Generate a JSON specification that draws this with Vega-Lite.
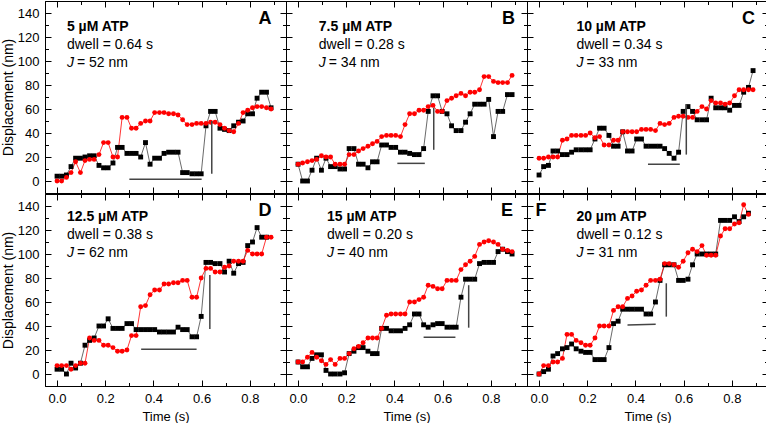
{
"$schema":"https://vega.github.io/schema/vega-lite/v6.json",
"padding":{"left":0,"top":0,"right":0,"bottom":0},
"background":"white",
"spacing":-4,
"config":{"font":"Liberation Sans","view":{"stroke":"black","strokeWidth":1},
"axis":{"domainColor":"black","tickColor":"black","labelColor":"black","titleColor":"black","labelFontSize":13,"titleFontSize":13,"titleFontWeight":"normal","grid":false,"tickWidth":1,"domainWidth":1,"labelOverlap":false,"labelFlush":false}},
"datasets":{
"labels":[
{"p":"A","atp":"5 µM ATP","dwell":"dwell = 0.64 s","j":"= 52 nm","letter":"A"},
{"p":"B","atp":"7.5 µM ATP","dwell":"dwell = 0.28 s","j":"= 34 nm","letter":"B"},
{"p":"C","atp":"10 µM ATP","dwell":"dwell = 0.34 s","j":"= 33 nm","letter":"C"},
{"p":"D","atp":"12.5 µM ATP","dwell":"dwell = 0.38 s","j":"= 62 nm","letter":"D"},
{"p":"E","atp":"15 µM ATP","dwell":"dwell = 0.20 s","j":"= 40 nm","letter":"E"},
{"p":"F","atp":"20 µm ATP","dwell":"dwell = 0.12 s","j":"= 31 nm","letter":"F"}],
"bars":[
{"p":"A","t":0.30,"t2":0.60,"v":1.4,"v2":1.4},{"p":"A","t":0.642,"t2":0.642,"v":6,"v2":50},
{"p":"B","t":0.412,"t2":0.526,"v":14.7,"v2":14.7},{"p":"B","t":0.563,"t2":0.563,"v":26,"v2":61},
{"p":"C","t":0.452,"t2":0.584,"v":14,"v2":14},{"p":"C","t":0.611,"t2":0.611,"v":22,"v2":64},
{"p":"D","t":0.349,"t2":0.579,"v":20.6,"v2":20.6},{"p":"D","t":0.634,"t2":0.634,"v":37.5,"v2":82.5},
{"p":"E","t":0.521,"t2":0.653,"v":30.6,"v2":30.6},{"p":"E","t":0.708,"t2":0.708,"v":38.6,"v2":74},
{"p":"F","t":0.367,"t2":0.484,"v":40.8,"v2":41.5},{"p":"F","t":0.528,"t2":0.528,"v":47.8,"v2":75.6}],
"traces":[
{"p":"A","s":"black","t":0,"v":4},{"p":"A","s":"black","t":0.019,"v":4},{"p":"A","s":"black","t":0.039,"v":5},{"p":"A","s":"black","t":0.058,"v":12},{"p":"A","s":"black","t":0.077,"v":19},{"p":"A","s":"black","t":0.097,"v":19},{"p":"A","s":"black","t":0.116,"v":20},{"p":"A","s":"black","t":0.135,"v":21},{"p":"A","s":"black","t":0.154,"v":21},{"p":"A","s":"black","t":0.174,"v":13},{"p":"A","s":"black","t":0.193,"v":11},{"p":"A","s":"black","t":0.212,"v":11},{"p":"A","s":"black","t":0.232,"v":15},{"p":"A","s":"black","t":0.251,"v":28},{"p":"A","s":"black","t":0.27,"v":28},{"p":"A","s":"black","t":0.29,"v":23},{"p":"A","s":"black","t":0.309,"v":23},{"p":"A","s":"black","t":0.328,"v":23},{"p":"A","s":"black","t":0.347,"v":20},{"p":"A","s":"black","t":0.367,"v":32},{"p":"A","s":"black","t":0.386,"v":14},{"p":"A","s":"black","t":0.405,"v":19},{"p":"A","s":"black","t":0.425,"v":19},{"p":"A","s":"black","t":0.444,"v":23},{"p":"A","s":"black","t":0.463,"v":24},{"p":"A","s":"black","t":0.483,"v":24},{"p":"A","s":"black","t":0.502,"v":24},{"p":"A","s":"black","t":0.521,"v":7},{"p":"A","s":"black","t":0.54,"v":7},{"p":"A","s":"black","t":0.56,"v":6},{"p":"A","s":"black","t":0.579,"v":6},{"p":"A","s":"black","t":0.598,"v":6},{"p":"A","s":"black","t":0.618,"v":46},{"p":"A","s":"black","t":0.637,"v":58},{"p":"A","s":"black","t":0.656,"v":58},{"p":"A","s":"black","t":0.676,"v":44},{"p":"A","s":"black","t":0.695,"v":43},{"p":"A","s":"black","t":0.714,"v":42},{"p":"A","s":"black","t":0.733,"v":46},{"p":"A","s":"black","t":0.753,"v":49},{"p":"A","s":"black","t":0.772,"v":50},{"p":"A","s":"black","t":0.791,"v":56},{"p":"A","s":"black","t":0.811,"v":56},{"p":"A","s":"black","t":0.83,"v":69},{"p":"A","s":"black","t":0.849,"v":74},{"p":"A","s":"black","t":0.869,"v":74},{"p":"A","s":"black","t":0.888,"v":61},
{"p":"A","s":"red","t":0,"v":0},{"p":"A","s":"red","t":0.019,"v":0},{"p":"A","s":"red","t":0.039,"v":3},{"p":"A","s":"red","t":0.058,"v":7},{"p":"A","s":"red","t":0.077,"v":16},{"p":"A","s":"red","t":0.097,"v":7},{"p":"A","s":"red","t":0.116,"v":17},{"p":"A","s":"red","t":0.135,"v":18},{"p":"A","s":"red","t":0.154,"v":18},{"p":"A","s":"red","t":0.174,"v":22},{"p":"A","s":"red","t":0.193,"v":32},{"p":"A","s":"red","t":0.212,"v":32},{"p":"A","s":"red","t":0.232,"v":20},{"p":"A","s":"red","t":0.251,"v":20},{"p":"A","s":"red","t":0.27,"v":53},{"p":"A","s":"red","t":0.29,"v":53},{"p":"A","s":"red","t":0.309,"v":44},{"p":"A","s":"red","t":0.328,"v":44},{"p":"A","s":"red","t":0.347,"v":48},{"p":"A","s":"red","t":0.367,"v":50},{"p":"A","s":"red","t":0.386,"v":50},{"p":"A","s":"red","t":0.405,"v":57},{"p":"A","s":"red","t":0.425,"v":57},{"p":"A","s":"red","t":0.444,"v":57},{"p":"A","s":"red","t":0.463,"v":56},{"p":"A","s":"red","t":0.483,"v":56},{"p":"A","s":"red","t":0.502,"v":55},{"p":"A","s":"red","t":0.521,"v":51},{"p":"A","s":"red","t":0.54,"v":47},{"p":"A","s":"red","t":0.56,"v":47},{"p":"A","s":"red","t":0.579,"v":48},{"p":"A","s":"red","t":0.598,"v":48},{"p":"A","s":"red","t":0.618,"v":48},{"p":"A","s":"red","t":0.637,"v":49},{"p":"A","s":"red","t":0.656,"v":49},{"p":"A","s":"red","t":0.676,"v":47},{"p":"A","s":"red","t":0.695,"v":44},{"p":"A","s":"red","t":0.714,"v":42},{"p":"A","s":"red","t":0.733,"v":41},{"p":"A","s":"red","t":0.753,"v":48},{"p":"A","s":"red","t":0.772,"v":57},{"p":"A","s":"red","t":0.791,"v":59},{"p":"A","s":"red","t":0.811,"v":61},{"p":"A","s":"red","t":0.83,"v":62},{"p":"A","s":"red","t":0.849,"v":62},{"p":"A","s":"red","t":0.869,"v":61},{"p":"A","s":"red","t":0.888,"v":60},
{"p":"B","s":"black","t":0,"v":14},{"p":"B","s":"black","t":0.019,"v":0},{"p":"B","s":"black","t":0.039,"v":0},{"p":"B","s":"black","t":0.058,"v":9},{"p":"B","s":"black","t":0.077,"v":19},{"p":"B","s":"black","t":0.097,"v":9},{"p":"B","s":"black","t":0.116,"v":19},{"p":"B","s":"black","t":0.135,"v":12},{"p":"B","s":"black","t":0.154,"v":12},{"p":"B","s":"black","t":0.174,"v":10},{"p":"B","s":"black","t":0.193,"v":10},{"p":"B","s":"black","t":0.212,"v":27},{"p":"B","s":"black","t":0.232,"v":27},{"p":"B","s":"black","t":0.251,"v":14},{"p":"B","s":"black","t":0.27,"v":14},{"p":"B","s":"black","t":0.29,"v":11},{"p":"B","s":"black","t":0.309,"v":16},{"p":"B","s":"black","t":0.328,"v":16},{"p":"B","s":"black","t":0.347,"v":30},{"p":"B","s":"black","t":0.367,"v":30},{"p":"B","s":"black","t":0.386,"v":28},{"p":"B","s":"black","t":0.405,"v":28},{"p":"B","s":"black","t":0.425,"v":24},{"p":"B","s":"black","t":0.444,"v":24},{"p":"B","s":"black","t":0.463,"v":23},{"p":"B","s":"black","t":0.483,"v":22},{"p":"B","s":"black","t":0.502,"v":22},{"p":"B","s":"black","t":0.521,"v":27},{"p":"B","s":"black","t":0.54,"v":58},{"p":"B","s":"black","t":0.56,"v":71},{"p":"B","s":"black","t":0.579,"v":71},{"p":"B","s":"black","t":0.598,"v":58},{"p":"B","s":"black","t":0.618,"v":56},{"p":"B","s":"black","t":0.637,"v":46},{"p":"B","s":"black","t":0.656,"v":42},{"p":"B","s":"black","t":0.676,"v":42},{"p":"B","s":"black","t":0.695,"v":49},{"p":"B","s":"black","t":0.714,"v":56},{"p":"B","s":"black","t":0.733,"v":64},{"p":"B","s":"black","t":0.753,"v":64},{"p":"B","s":"black","t":0.772,"v":64},{"p":"B","s":"black","t":0.791,"v":68},{"p":"B","s":"black","t":0.811,"v":37},{"p":"B","s":"black","t":0.83,"v":58},{"p":"B","s":"black","t":0.849,"v":58},{"p":"B","s":"black","t":0.869,"v":72},{"p":"B","s":"black","t":0.888,"v":72},
{"p":"B","s":"red","t":0,"v":14},{"p":"B","s":"red","t":0.019,"v":15},{"p":"B","s":"red","t":0.039,"v":16},{"p":"B","s":"red","t":0.058,"v":17},{"p":"B","s":"red","t":0.077,"v":18},{"p":"B","s":"red","t":0.097,"v":21},{"p":"B","s":"red","t":0.116,"v":20},{"p":"B","s":"red","t":0.135,"v":20},{"p":"B","s":"red","t":0.154,"v":14},{"p":"B","s":"red","t":0.174,"v":14},{"p":"B","s":"red","t":0.193,"v":14},{"p":"B","s":"red","t":0.212,"v":22},{"p":"B","s":"red","t":0.232,"v":22},{"p":"B","s":"red","t":0.251,"v":25},{"p":"B","s":"red","t":0.27,"v":27},{"p":"B","s":"red","t":0.29,"v":29},{"p":"B","s":"red","t":0.309,"v":31},{"p":"B","s":"red","t":0.328,"v":33},{"p":"B","s":"red","t":0.347,"v":37},{"p":"B","s":"red","t":0.367,"v":38},{"p":"B","s":"red","t":0.386,"v":38},{"p":"B","s":"red","t":0.405,"v":38},{"p":"B","s":"red","t":0.425,"v":37},{"p":"B","s":"red","t":0.444,"v":47},{"p":"B","s":"red","t":0.463,"v":56},{"p":"B","s":"red","t":0.483,"v":56},{"p":"B","s":"red","t":0.502,"v":59},{"p":"B","s":"red","t":0.521,"v":59},{"p":"B","s":"red","t":0.54,"v":62},{"p":"B","s":"red","t":0.56,"v":63},{"p":"B","s":"red","t":0.579,"v":58},{"p":"B","s":"red","t":0.598,"v":58},{"p":"B","s":"red","t":0.618,"v":67},{"p":"B","s":"red","t":0.637,"v":69},{"p":"B","s":"red","t":0.656,"v":71},{"p":"B","s":"red","t":0.676,"v":73},{"p":"B","s":"red","t":0.695,"v":71},{"p":"B","s":"red","t":0.714,"v":74},{"p":"B","s":"red","t":0.733,"v":74},{"p":"B","s":"red","t":0.753,"v":76},{"p":"B","s":"red","t":0.772,"v":87},{"p":"B","s":"red","t":0.791,"v":87},{"p":"B","s":"red","t":0.811,"v":83},{"p":"B","s":"red","t":0.83,"v":82},{"p":"B","s":"red","t":0.849,"v":82},{"p":"B","s":"red","t":0.869,"v":82},{"p":"B","s":"red","t":0.888,"v":88},
{"p":"C","s":"black","t":0,"v":5},{"p":"C","s":"black","t":0.019,"v":12},{"p":"C","s":"black","t":0.039,"v":13},{"p":"C","s":"black","t":0.058,"v":25},{"p":"C","s":"black","t":0.077,"v":25},{"p":"C","s":"black","t":0.097,"v":22},{"p":"C","s":"black","t":0.116,"v":22},{"p":"C","s":"black","t":0.135,"v":24},{"p":"C","s":"black","t":0.154,"v":26},{"p":"C","s":"black","t":0.174,"v":26},{"p":"C","s":"black","t":0.193,"v":26},{"p":"C","s":"black","t":0.212,"v":26},{"p":"C","s":"black","t":0.232,"v":35},{"p":"C","s":"black","t":0.251,"v":44},{"p":"C","s":"black","t":0.27,"v":44},{"p":"C","s":"black","t":0.29,"v":38},{"p":"C","s":"black","t":0.309,"v":29},{"p":"C","s":"black","t":0.328,"v":29},{"p":"C","s":"black","t":0.347,"v":41},{"p":"C","s":"black","t":0.367,"v":25},{"p":"C","s":"black","t":0.386,"v":25},{"p":"C","s":"black","t":0.405,"v":35},{"p":"C","s":"black","t":0.425,"v":35},{"p":"C","s":"black","t":0.444,"v":29},{"p":"C","s":"black","t":0.463,"v":29},{"p":"C","s":"black","t":0.483,"v":29},{"p":"C","s":"black","t":0.502,"v":29},{"p":"C","s":"black","t":0.521,"v":27},{"p":"C","s":"black","t":0.54,"v":23},{"p":"C","s":"black","t":0.56,"v":19},{"p":"C","s":"black","t":0.579,"v":24},{"p":"C","s":"black","t":0.598,"v":58},{"p":"C","s":"black","t":0.618,"v":62},{"p":"C","s":"black","t":0.637,"v":58},{"p":"C","s":"black","t":0.656,"v":51},{"p":"C","s":"black","t":0.676,"v":51},{"p":"C","s":"black","t":0.695,"v":51},{"p":"C","s":"black","t":0.714,"v":69},{"p":"C","s":"black","t":0.733,"v":61},{"p":"C","s":"black","t":0.753,"v":61},{"p":"C","s":"black","t":0.772,"v":61},{"p":"C","s":"black","t":0.791,"v":59},{"p":"C","s":"black","t":0.811,"v":63},{"p":"C","s":"black","t":0.83,"v":63},{"p":"C","s":"black","t":0.849,"v":74},{"p":"C","s":"black","t":0.869,"v":78},{"p":"C","s":"black","t":0.888,"v":92},
{"p":"C","s":"red","t":0,"v":19},{"p":"C","s":"red","t":0.019,"v":19},{"p":"C","s":"red","t":0.039,"v":20},{"p":"C","s":"red","t":0.058,"v":20},{"p":"C","s":"red","t":0.077,"v":20},{"p":"C","s":"red","t":0.097,"v":34},{"p":"C","s":"red","t":0.116,"v":35},{"p":"C","s":"red","t":0.135,"v":38},{"p":"C","s":"red","t":0.154,"v":38},{"p":"C","s":"red","t":0.174,"v":38},{"p":"C","s":"red","t":0.193,"v":38},{"p":"C","s":"red","t":0.212,"v":40},{"p":"C","s":"red","t":0.232,"v":36},{"p":"C","s":"red","t":0.251,"v":37},{"p":"C","s":"red","t":0.27,"v":30},{"p":"C","s":"red","t":0.29,"v":30},{"p":"C","s":"red","t":0.309,"v":34},{"p":"C","s":"red","t":0.328,"v":34},{"p":"C","s":"red","t":0.347,"v":41},{"p":"C","s":"red","t":0.367,"v":41},{"p":"C","s":"red","t":0.386,"v":41},{"p":"C","s":"red","t":0.405,"v":41},{"p":"C","s":"red","t":0.425,"v":43},{"p":"C","s":"red","t":0.444,"v":43},{"p":"C","s":"red","t":0.463,"v":43},{"p":"C","s":"red","t":0.483,"v":42},{"p":"C","s":"red","t":0.502,"v":48},{"p":"C","s":"red","t":0.521,"v":47},{"p":"C","s":"red","t":0.54,"v":48},{"p":"C","s":"red","t":0.56,"v":53},{"p":"C","s":"red","t":0.579,"v":54},{"p":"C","s":"red","t":0.598,"v":54},{"p":"C","s":"red","t":0.618,"v":53},{"p":"C","s":"red","t":0.637,"v":53},{"p":"C","s":"red","t":0.656,"v":58},{"p":"C","s":"red","t":0.676,"v":62},{"p":"C","s":"red","t":0.695,"v":60},{"p":"C","s":"red","t":0.714,"v":67},{"p":"C","s":"red","t":0.733,"v":65},{"p":"C","s":"red","t":0.753,"v":65},{"p":"C","s":"red","t":0.772,"v":64},{"p":"C","s":"red","t":0.791,"v":65},{"p":"C","s":"red","t":0.811,"v":71},{"p":"C","s":"red","t":0.83,"v":76},{"p":"C","s":"red","t":0.849,"v":76},{"p":"C","s":"red","t":0.869,"v":76},{"p":"C","s":"red","t":0.888,"v":76},
{"p":"D","s":"black","t":0,"v":4},{"p":"D","s":"black","t":0.019,"v":4},{"p":"D","s":"black","t":0.039,"v":0},{"p":"D","s":"black","t":0.058,"v":9},{"p":"D","s":"black","t":0.077,"v":5},{"p":"D","s":"black","t":0.097,"v":9},{"p":"D","s":"black","t":0.116,"v":24},{"p":"D","s":"black","t":0.135,"v":28},{"p":"D","s":"black","t":0.154,"v":30},{"p":"D","s":"black","t":0.174,"v":40},{"p":"D","s":"black","t":0.193,"v":40},{"p":"D","s":"black","t":0.212,"v":46},{"p":"D","s":"black","t":0.232,"v":38},{"p":"D","s":"black","t":0.251,"v":38},{"p":"D","s":"black","t":0.27,"v":38},{"p":"D","s":"black","t":0.29,"v":42},{"p":"D","s":"black","t":0.309,"v":42},{"p":"D","s":"black","t":0.328,"v":37},{"p":"D","s":"black","t":0.347,"v":37},{"p":"D","s":"black","t":0.367,"v":37},{"p":"D","s":"black","t":0.386,"v":37},{"p":"D","s":"black","t":0.405,"v":37},{"p":"D","s":"black","t":0.425,"v":35},{"p":"D","s":"black","t":0.444,"v":35},{"p":"D","s":"black","t":0.463,"v":35},{"p":"D","s":"black","t":0.483,"v":35},{"p":"D","s":"black","t":0.502,"v":39},{"p":"D","s":"black","t":0.521,"v":37},{"p":"D","s":"black","t":0.54,"v":37},{"p":"D","s":"black","t":0.56,"v":31},{"p":"D","s":"black","t":0.579,"v":31},{"p":"D","s":"black","t":0.598,"v":48},{"p":"D","s":"black","t":0.618,"v":93},{"p":"D","s":"black","t":0.637,"v":93},{"p":"D","s":"black","t":0.656,"v":92},{"p":"D","s":"black","t":0.676,"v":92},{"p":"D","s":"black","t":0.695,"v":85},{"p":"D","s":"black","t":0.714,"v":94},{"p":"D","s":"black","t":0.733,"v":84},{"p":"D","s":"black","t":0.753,"v":92},{"p":"D","s":"black","t":0.772,"v":93},{"p":"D","s":"black","t":0.791,"v":107},{"p":"D","s":"black","t":0.811,"v":110},{"p":"D","s":"black","t":0.83,"v":122},{"p":"D","s":"black","t":0.849,"v":114},{"p":"D","s":"black","t":0.869,"v":114},
{"p":"D","s":"red","t":0,"v":7},{"p":"D","s":"red","t":0.019,"v":7},{"p":"D","s":"red","t":0.039,"v":7},{"p":"D","s":"red","t":0.058,"v":4},{"p":"D","s":"red","t":0.077,"v":7},{"p":"D","s":"red","t":0.097,"v":9},{"p":"D","s":"red","t":0.116,"v":9},{"p":"D","s":"red","t":0.135,"v":30},{"p":"D","s":"red","t":0.154,"v":28},{"p":"D","s":"red","t":0.174,"v":28},{"p":"D","s":"red","t":0.193,"v":24},{"p":"D","s":"red","t":0.212,"v":24},{"p":"D","s":"red","t":0.232,"v":22},{"p":"D","s":"red","t":0.251,"v":19},{"p":"D","s":"red","t":0.27,"v":19},{"p":"D","s":"red","t":0.29,"v":20},{"p":"D","s":"red","t":0.309,"v":32},{"p":"D","s":"red","t":0.328,"v":32},{"p":"D","s":"red","t":0.347,"v":56},{"p":"D","s":"red","t":0.367,"v":57},{"p":"D","s":"red","t":0.386,"v":66},{"p":"D","s":"red","t":0.405,"v":70},{"p":"D","s":"red","t":0.425,"v":70},{"p":"D","s":"red","t":0.444,"v":75},{"p":"D","s":"red","t":0.463,"v":75},{"p":"D","s":"red","t":0.483,"v":76},{"p":"D","s":"red","t":0.502,"v":76},{"p":"D","s":"red","t":0.521,"v":78},{"p":"D","s":"red","t":0.54,"v":78},{"p":"D","s":"red","t":0.56,"v":64},{"p":"D","s":"red","t":0.579,"v":64},{"p":"D","s":"red","t":0.598,"v":80},{"p":"D","s":"red","t":0.618,"v":88},{"p":"D","s":"red","t":0.637,"v":88},{"p":"D","s":"red","t":0.656,"v":85},{"p":"D","s":"red","t":0.676,"v":85},{"p":"D","s":"red","t":0.695,"v":89},{"p":"D","s":"red","t":0.714,"v":90},{"p":"D","s":"red","t":0.733,"v":94},{"p":"D","s":"red","t":0.753,"v":94},{"p":"D","s":"red","t":0.772,"v":94},{"p":"D","s":"red","t":0.791,"v":103},{"p":"D","s":"red","t":0.811,"v":100},{"p":"D","s":"red","t":0.83,"v":100},{"p":"D","s":"red","t":0.849,"v":100},{"p":"D","s":"red","t":0.869,"v":114},{"p":"D","s":"red","t":0.888,"v":114},
{"p":"E","s":"black","t":0,"v":10},{"p":"E","s":"black","t":0.019,"v":6},{"p":"E","s":"black","t":0.039,"v":6},{"p":"E","s":"black","t":0.058,"v":13},{"p":"E","s":"black","t":0.077,"v":16},{"p":"E","s":"black","t":0.097,"v":16},{"p":"E","s":"black","t":0.116,"v":3},{"p":"E","s":"black","t":0.135,"v":0},{"p":"E","s":"black","t":0.154,"v":0},{"p":"E","s":"black","t":0.174,"v":0},{"p":"E","s":"black","t":0.193,"v":1},{"p":"E","s":"black","t":0.212,"v":17},{"p":"E","s":"black","t":0.232,"v":19},{"p":"E","s":"black","t":0.251,"v":22},{"p":"E","s":"black","t":0.27,"v":22},{"p":"E","s":"black","t":0.29,"v":19},{"p":"E","s":"black","t":0.309,"v":17},{"p":"E","s":"black","t":0.328,"v":17},{"p":"E","s":"black","t":0.347,"v":38},{"p":"E","s":"black","t":0.367,"v":38},{"p":"E","s":"black","t":0.386,"v":36},{"p":"E","s":"black","t":0.405,"v":36},{"p":"E","s":"black","t":0.425,"v":36},{"p":"E","s":"black","t":0.444,"v":38},{"p":"E","s":"black","t":0.463,"v":41},{"p":"E","s":"black","t":0.483,"v":50},{"p":"E","s":"black","t":0.502,"v":50},{"p":"E","s":"black","t":0.521,"v":41},{"p":"E","s":"black","t":0.54,"v":39},{"p":"E","s":"black","t":0.56,"v":41},{"p":"E","s":"black","t":0.579,"v":42},{"p":"E","s":"black","t":0.598,"v":42},{"p":"E","s":"black","t":0.618,"v":39},{"p":"E","s":"black","t":0.637,"v":39},{"p":"E","s":"black","t":0.656,"v":39},{"p":"E","s":"black","t":0.676,"v":64},{"p":"E","s":"black","t":0.695,"v":79},{"p":"E","s":"black","t":0.714,"v":79},{"p":"E","s":"black","t":0.733,"v":79},{"p":"E","s":"black","t":0.753,"v":92},{"p":"E","s":"black","t":0.772,"v":93},{"p":"E","s":"black","t":0.791,"v":93},{"p":"E","s":"black","t":0.811,"v":93},{"p":"E","s":"black","t":0.83,"v":102},{"p":"E","s":"black","t":0.849,"v":104},{"p":"E","s":"black","t":0.869,"v":102},{"p":"E","s":"black","t":0.888,"v":100},
{"p":"E","s":"red","t":0,"v":10},{"p":"E","s":"red","t":0.019,"v":10},{"p":"E","s":"red","t":0.039,"v":14},{"p":"E","s":"red","t":0.058,"v":18},{"p":"E","s":"red","t":0.077,"v":14},{"p":"E","s":"red","t":0.097,"v":11},{"p":"E","s":"red","t":0.116,"v":8},{"p":"E","s":"red","t":0.135,"v":12},{"p":"E","s":"red","t":0.154,"v":8},{"p":"E","s":"red","t":0.174,"v":13},{"p":"E","s":"red","t":0.193,"v":13},{"p":"E","s":"red","t":0.212,"v":17},{"p":"E","s":"red","t":0.232,"v":21},{"p":"E","s":"red","t":0.251,"v":23},{"p":"E","s":"red","t":0.27,"v":26},{"p":"E","s":"red","t":0.29,"v":30},{"p":"E","s":"red","t":0.309,"v":30},{"p":"E","s":"red","t":0.328,"v":30},{"p":"E","s":"red","t":0.347,"v":38},{"p":"E","s":"red","t":0.367,"v":49},{"p":"E","s":"red","t":0.386,"v":50},{"p":"E","s":"red","t":0.405,"v":50},{"p":"E","s":"red","t":0.425,"v":50},{"p":"E","s":"red","t":0.444,"v":50},{"p":"E","s":"red","t":0.463,"v":60},{"p":"E","s":"red","t":0.483,"v":60},{"p":"E","s":"red","t":0.502,"v":62},{"p":"E","s":"red","t":0.521,"v":64},{"p":"E","s":"red","t":0.54,"v":74},{"p":"E","s":"red","t":0.56,"v":73},{"p":"E","s":"red","t":0.579,"v":71},{"p":"E","s":"red","t":0.598,"v":71},{"p":"E","s":"red","t":0.618,"v":78},{"p":"E","s":"red","t":0.637,"v":78},{"p":"E","s":"red","t":0.656,"v":78},{"p":"E","s":"red","t":0.676,"v":87},{"p":"E","s":"red","t":0.695,"v":91},{"p":"E","s":"red","t":0.714,"v":94},{"p":"E","s":"red","t":0.733,"v":98},{"p":"E","s":"red","t":0.753,"v":108},{"p":"E","s":"red","t":0.772,"v":110},{"p":"E","s":"red","t":0.791,"v":111},{"p":"E","s":"red","t":0.811,"v":110},{"p":"E","s":"red","t":0.83,"v":108},{"p":"E","s":"red","t":0.849,"v":104},{"p":"E","s":"red","t":0.869,"v":103},{"p":"E","s":"red","t":0.888,"v":102},
{"p":"F","s":"black","t":0,"v":0},{"p":"F","s":"black","t":0.019,"v":2},{"p":"F","s":"black","t":0.039,"v":4},{"p":"F","s":"black","t":0.058,"v":15},{"p":"F","s":"black","t":0.077,"v":17},{"p":"F","s":"black","t":0.097,"v":21},{"p":"F","s":"black","t":0.116,"v":22},{"p":"F","s":"black","t":0.135,"v":25},{"p":"F","s":"black","t":0.154,"v":21},{"p":"F","s":"black","t":0.174,"v":19},{"p":"F","s":"black","t":0.193,"v":18},{"p":"F","s":"black","t":0.212,"v":18},{"p":"F","s":"black","t":0.232,"v":12},{"p":"F","s":"black","t":0.251,"v":12},{"p":"F","s":"black","t":0.27,"v":12},{"p":"F","s":"black","t":0.29,"v":22},{"p":"F","s":"black","t":0.309,"v":42},{"p":"F","s":"black","t":0.328,"v":44},{"p":"F","s":"black","t":0.347,"v":54},{"p":"F","s":"black","t":0.367,"v":54},{"p":"F","s":"black","t":0.386,"v":54},{"p":"F","s":"black","t":0.405,"v":54},{"p":"F","s":"black","t":0.425,"v":54},{"p":"F","s":"black","t":0.444,"v":50},{"p":"F","s":"black","t":0.463,"v":50},{"p":"F","s":"black","t":0.483,"v":60},{"p":"F","s":"black","t":0.502,"v":78},{"p":"F","s":"black","t":0.521,"v":91},{"p":"F","s":"black","t":0.54,"v":91},{"p":"F","s":"black","t":0.56,"v":91},{"p":"F","s":"black","t":0.579,"v":78},{"p":"F","s":"black","t":0.598,"v":78},{"p":"F","s":"black","t":0.618,"v":79},{"p":"F","s":"black","t":0.637,"v":91},{"p":"F","s":"black","t":0.656,"v":100},{"p":"F","s":"black","t":0.676,"v":100},{"p":"F","s":"black","t":0.695,"v":100},{"p":"F","s":"black","t":0.714,"v":100},{"p":"F","s":"black","t":0.733,"v":100},{"p":"F","s":"black","t":0.753,"v":128},{"p":"F","s":"black","t":0.772,"v":128},{"p":"F","s":"black","t":0.791,"v":128},{"p":"F","s":"black","t":0.811,"v":131},{"p":"F","s":"black","t":0.83,"v":127},{"p":"F","s":"black","t":0.849,"v":131},{"p":"F","s":"black","t":0.869,"v":134},
{"p":"F","s":"red","t":0,"v":0},{"p":"F","s":"red","t":0.019,"v":7},{"p":"F","s":"red","t":0.039,"v":7},{"p":"F","s":"red","t":0.058,"v":10},{"p":"F","s":"red","t":0.077,"v":10},{"p":"F","s":"red","t":0.097,"v":13},{"p":"F","s":"red","t":0.116,"v":33},{"p":"F","s":"red","t":0.135,"v":33},{"p":"F","s":"red","t":0.154,"v":28},{"p":"F","s":"red","t":0.174,"v":26},{"p":"F","s":"red","t":0.193,"v":24},{"p":"F","s":"red","t":0.212,"v":24},{"p":"F","s":"red","t":0.232,"v":30},{"p":"F","s":"red","t":0.251,"v":40},{"p":"F","s":"red","t":0.27,"v":40},{"p":"F","s":"red","t":0.29,"v":40},{"p":"F","s":"red","t":0.309,"v":53},{"p":"F","s":"red","t":0.328,"v":56},{"p":"F","s":"red","t":0.347,"v":56},{"p":"F","s":"red","t":0.367,"v":63},{"p":"F","s":"red","t":0.386,"v":65},{"p":"F","s":"red","t":0.405,"v":69},{"p":"F","s":"red","t":0.425,"v":70},{"p":"F","s":"red","t":0.444,"v":74},{"p":"F","s":"red","t":0.463,"v":78},{"p":"F","s":"red","t":0.483,"v":78},{"p":"F","s":"red","t":0.502,"v":79},{"p":"F","s":"red","t":0.521,"v":92},{"p":"F","s":"red","t":0.54,"v":92},{"p":"F","s":"red","t":0.56,"v":91},{"p":"F","s":"red","t":0.579,"v":89},{"p":"F","s":"red","t":0.598,"v":94},{"p":"F","s":"red","t":0.618,"v":101},{"p":"F","s":"red","t":0.637,"v":104},{"p":"F","s":"red","t":0.656,"v":102},{"p":"F","s":"red","t":0.676,"v":107},{"p":"F","s":"red","t":0.695,"v":99},{"p":"F","s":"red","t":0.714,"v":99},{"p":"F","s":"red","t":0.733,"v":99},{"p":"F","s":"red","t":0.753,"v":115},{"p":"F","s":"red","t":0.772,"v":121},{"p":"F","s":"red","t":0.791,"v":121},{"p":"F","s":"red","t":0.811,"v":125},{"p":"F","s":"red","t":0.83,"v":126},{"p":"F","s":"red","t":0.849,"v":141},{"p":"F","s":"red","t":0.869,"v":133}
]},
"vconcat":[
{"hconcat":[
{"width":241,"height":192,"layer":[
{"data":{"name":"traces"},"transform":[{"filter":"datum.p==='A'"}],"mark":{"type":"line","strokeWidth":0.8},"encoding":{"x":{"field":"t","type":"quantitative","scale":{"domain":[-0.05,0.95],"nice":false,"zero":false},"axis":{"orient":"bottom","values":[0,0.1,0.2,0.3,0.4,0.5,0.6,0.7,0.8,0.9],"labels":false,"title":null,"tickSize":{"condition":{"test":"round(datum.value*10)%2===0","value":-6},"value":-3.5}}},"y":{"field":"v","type":"quantitative","scale":{"domain":[-10,150],"nice":false,"zero":false},"axis":{"orient":"left","values":[0,10,20,30,40,50,60,70,80,90,100,110,120,130,140],"labelExpr":"datum.value%20===0?datum.label:''","labelPadding":12,"title":"Displacement (nm)","titleFontSize":14,"titlePadding":2,"tickSize":{"condition":{"test":"datum.value%20===0","value":-6},"value":-3.5}}},"stroke":{"field":"s","type":"nominal","scale":{"domain":["black","red"],"range":["#444444","#ff0000"]},"legend":null}}},
{"data":{"name":"traces"},"transform":[{"filter":"datum.p==='A'"}],"mark":{"type":"point","filled":true,"opacity":1,"size":24},"encoding":{"x":{"field":"t","type":"quantitative","scale":{"domain":[-0.05,0.95],"nice":false,"zero":false},"axis":{"orient":"top","values":[0,0.1,0.2,0.3,0.4,0.5,0.6,0.7,0.8,0.9],"labels":false,"title":null,"tickSize":{"condition":{"test":"round(datum.value*10)%2===0","value":-6},"value":-3.5}}},"y":{"field":"v","type":"quantitative","scale":{"domain":[-10,150],"nice":false,"zero":false},"axis":{"orient":"right","values":[0,10,20,30,40,50,60,70,80,90,100,110,120,130,140],"labels":false,"title":null,"tickSize":{"condition":{"test":"datum.value%20===0","value":-6},"value":-3.5}}},"shape":{"field":"s","type":"nominal","scale":{"domain":["black","red"],"range":["square","circle"]},"legend":null},"fill":{"field":"s","type":"nominal","scale":{"domain":["black","red"],"range":["#000000","#ff0000"]},"legend":null}}},
{"data":{"name":"bars"},"transform":[{"filter":"datum.p==='A'"}],"mark":{"type":"rule","color":"#444444","strokeWidth":1.5},"encoding":{"x":{"field":"t","type":"quantitative","axis":null},"x2":{"field":"t2"},"y":{"field":"v","type":"quantitative","axis":null},"y2":{"field":"v2"}}},
{"data":{"name":"labels"},"transform":[{"filter":"datum.p==='A'"}],"mark":{"type":"text","align":"left","baseline":"middle","fontSize":14,"fontWeight":"bold"},"encoding":{"x":{"datum":0.041,"axis":null},"y":{"datum":128,"axis":null},"text":{"field":"atp"}}},
{"data":{"name":"labels"},"transform":[{"filter":"datum.p==='A'"}],"mark":{"type":"text","align":"left","baseline":"middle","fontSize":14},"encoding":{"x":{"datum":0.041,"axis":null},"y":{"datum":113,"axis":null},"text":{"field":"dwell"}}},
{"data":{"name":"labels"},"transform":[{"filter":"datum.p==='A'"}],"mark":{"type":"text","align":"left","baseline":"middle","fontSize":14,"fontStyle":"italic","text":"J"},"encoding":{"x":{"datum":0.041,"axis":null},"y":{"datum":98.5,"axis":null}}},
{"data":{"name":"labels"},"transform":[{"filter":"datum.p==='A'"}],"mark":{"type":"text","align":"left","baseline":"middle","fontSize":14,"dx":10},"encoding":{"x":{"datum":0.041,"axis":null},"y":{"datum":98.5,"axis":null},"text":{"field":"j"}}},
{"data":{"name":"labels"},"transform":[{"filter":"datum.p==='A'"}],"mark":{"type":"text","align":"right","baseline":"middle","fontSize":18,"fontWeight":"bold"},"encoding":{"x":{"datum":0.89,"axis":null},"y":{"datum":134.6,"axis":null},"text":{"field":"letter"}}}
],"resolve":{"axis":{"x":"independent","y":"independent"}}},
{"width":241,"height":192,"layer":[
{"data":{"name":"traces"},"transform":[{"filter":"datum.p==='B'"}],"mark":{"type":"line","strokeWidth":0.8},"encoding":{"x":{"field":"t","type":"quantitative","scale":{"domain":[-0.05,0.95],"nice":false,"zero":false},"axis":{"orient":"bottom","values":[0,0.1,0.2,0.3,0.4,0.5,0.6,0.7,0.8,0.9],"labels":false,"title":null,"tickSize":{"condition":{"test":"round(datum.value*10)%2===0","value":-6},"value":-3.5}}},"y":{"field":"v","type":"quantitative","scale":{"domain":[-10,150],"nice":false,"zero":false},"axis":{"orient":"left","values":[0,10,20,30,40,50,60,70,80,90,100,110,120,130,140],"labels":false,"title":null,"tickSize":{"condition":{"test":"datum.value%20===0","value":-6},"value":-3.5}}},"stroke":{"field":"s","type":"nominal","scale":{"domain":["black","red"],"range":["#444444","#ff0000"]},"legend":null}}},
{"data":{"name":"traces"},"transform":[{"filter":"datum.p==='B'"}],"mark":{"type":"point","filled":true,"opacity":1,"size":24},"encoding":{"x":{"field":"t","type":"quantitative","scale":{"domain":[-0.05,0.95],"nice":false,"zero":false},"axis":{"orient":"top","values":[0,0.1,0.2,0.3,0.4,0.5,0.6,0.7,0.8,0.9],"labels":false,"title":null,"tickSize":{"condition":{"test":"round(datum.value*10)%2===0","value":-6},"value":-3.5}}},"y":{"field":"v","type":"quantitative","scale":{"domain":[-10,150],"nice":false,"zero":false},"axis":{"orient":"right","values":[0,10,20,30,40,50,60,70,80,90,100,110,120,130,140],"labels":false,"title":null,"tickSize":{"condition":{"test":"datum.value%20===0","value":-6},"value":-3.5}}},"shape":{"field":"s","type":"nominal","scale":{"domain":["black","red"],"range":["square","circle"]},"legend":null},"fill":{"field":"s","type":"nominal","scale":{"domain":["black","red"],"range":["#000000","#ff0000"]},"legend":null}}},
{"data":{"name":"bars"},"transform":[{"filter":"datum.p==='B'"}],"mark":{"type":"rule","color":"#444444","strokeWidth":1.5},"encoding":{"x":{"field":"t","type":"quantitative","axis":null},"x2":{"field":"t2"},"y":{"field":"v","type":"quantitative","axis":null},"y2":{"field":"v2"}}},
{"data":{"name":"labels"},"transform":[{"filter":"datum.p==='B'"}],"mark":{"type":"text","align":"left","baseline":"middle","fontSize":14,"fontWeight":"bold"},"encoding":{"x":{"datum":0.086,"axis":null},"y":{"datum":128,"axis":null},"text":{"field":"atp"}}},
{"data":{"name":"labels"},"transform":[{"filter":"datum.p==='B'"}],"mark":{"type":"text","align":"left","baseline":"middle","fontSize":14},"encoding":{"x":{"datum":0.086,"axis":null},"y":{"datum":113,"axis":null},"text":{"field":"dwell"}}},
{"data":{"name":"labels"},"transform":[{"filter":"datum.p==='B'"}],"mark":{"type":"text","align":"left","baseline":"middle","fontSize":14,"fontStyle":"italic","text":"J"},"encoding":{"x":{"datum":0.086,"axis":null},"y":{"datum":98.5,"axis":null}}},
{"data":{"name":"labels"},"transform":[{"filter":"datum.p==='B'"}],"mark":{"type":"text","align":"left","baseline":"middle","fontSize":14,"dx":10},"encoding":{"x":{"datum":0.086,"axis":null},"y":{"datum":98.5,"axis":null},"text":{"field":"j"}}},
{"data":{"name":"labels"},"transform":[{"filter":"datum.p==='B'"}],"mark":{"type":"text","align":"right","baseline":"middle","fontSize":18,"fontWeight":"bold"},"encoding":{"x":{"datum":0.9,"axis":null},"y":{"datum":134.6,"axis":null},"text":{"field":"letter"}}}
],"resolve":{"axis":{"x":"independent","y":"independent"}}},
{"width":241,"height":192,"layer":[
{"data":{"name":"traces"},"transform":[{"filter":"datum.p==='C'"}],"mark":{"type":"line","strokeWidth":0.8},"encoding":{"x":{"field":"t","type":"quantitative","scale":{"domain":[-0.05,0.95],"nice":false,"zero":false},"axis":{"orient":"bottom","values":[0,0.1,0.2,0.3,0.4,0.5,0.6,0.7,0.8,0.9],"labels":false,"title":null,"tickSize":{"condition":{"test":"round(datum.value*10)%2===0","value":-6},"value":-3.5}}},"y":{"field":"v","type":"quantitative","scale":{"domain":[-10,150],"nice":false,"zero":false},"axis":{"orient":"left","values":[0,10,20,30,40,50,60,70,80,90,100,110,120,130,140],"labels":false,"title":null,"tickSize":{"condition":{"test":"datum.value%20===0","value":-6},"value":-3.5}}},"stroke":{"field":"s","type":"nominal","scale":{"domain":["black","red"],"range":["#444444","#ff0000"]},"legend":null}}},
{"data":{"name":"traces"},"transform":[{"filter":"datum.p==='C'"}],"mark":{"type":"point","filled":true,"opacity":1,"size":24},"encoding":{"x":{"field":"t","type":"quantitative","scale":{"domain":[-0.05,0.95],"nice":false,"zero":false},"axis":{"orient":"top","values":[0,0.1,0.2,0.3,0.4,0.5,0.6,0.7,0.8,0.9],"labels":false,"title":null,"tickSize":{"condition":{"test":"round(datum.value*10)%2===0","value":-6},"value":-3.5}}},"y":{"field":"v","type":"quantitative","scale":{"domain":[-10,150],"nice":false,"zero":false},"axis":{"orient":"right","values":[0,10,20,30,40,50,60,70,80,90,100,110,120,130,140],"labels":false,"title":null,"tickSize":{"condition":{"test":"datum.value%20===0","value":-6},"value":-3.5}}},"shape":{"field":"s","type":"nominal","scale":{"domain":["black","red"],"range":["square","circle"]},"legend":null},"fill":{"field":"s","type":"nominal","scale":{"domain":["black","red"],"range":["#000000","#ff0000"]},"legend":null}}},
{"data":{"name":"bars"},"transform":[{"filter":"datum.p==='C'"}],"mark":{"type":"rule","color":"#444444","strokeWidth":1.5},"encoding":{"x":{"field":"t","type":"quantitative","axis":null},"x2":{"field":"t2"},"y":{"field":"v","type":"quantitative","axis":null},"y2":{"field":"v2"}}},
{"data":{"name":"labels"},"transform":[{"filter":"datum.p==='C'"}],"mark":{"type":"text","align":"left","baseline":"middle","fontSize":14,"fontWeight":"bold"},"encoding":{"x":{"datum":0.155,"axis":null},"y":{"datum":128,"axis":null},"text":{"field":"atp"}}},
{"data":{"name":"labels"},"transform":[{"filter":"datum.p==='C'"}],"mark":{"type":"text","align":"left","baseline":"middle","fontSize":14},"encoding":{"x":{"datum":0.155,"axis":null},"y":{"datum":113,"axis":null},"text":{"field":"dwell"}}},
{"data":{"name":"labels"},"transform":[{"filter":"datum.p==='C'"}],"mark":{"type":"text","align":"left","baseline":"middle","fontSize":14,"fontStyle":"italic","text":"J"},"encoding":{"x":{"datum":0.155,"axis":null},"y":{"datum":98.5,"axis":null}}},
{"data":{"name":"labels"},"transform":[{"filter":"datum.p==='C'"}],"mark":{"type":"text","align":"left","baseline":"middle","fontSize":14,"dx":10},"encoding":{"x":{"datum":0.155,"axis":null},"y":{"datum":98.5,"axis":null},"text":{"field":"j"}}},
{"data":{"name":"labels"},"transform":[{"filter":"datum.p==='C'"}],"mark":{"type":"text","align":"right","baseline":"middle","fontSize":18,"fontWeight":"bold"},"encoding":{"x":{"datum":0.896,"axis":null},"y":{"datum":134.6,"axis":null},"text":{"field":"letter"}}}
],"resolve":{"axis":{"x":"independent","y":"independent"}}}
],"spacing":0,"bounds":"flush"},
{"hconcat":[
{"width":241,"height":192,"layer":[
{"data":{"name":"traces"},"transform":[{"filter":"datum.p==='D'"}],"mark":{"type":"line","strokeWidth":0.8},"encoding":{"x":{"field":"t","type":"quantitative","scale":{"domain":[-0.05,0.95],"nice":false,"zero":false},"axis":{"orient":"bottom","values":[0,0.1,0.2,0.3,0.4,0.5,0.6,0.7,0.8,0.9],"labelExpr":"round(datum.value*10)%2===0?format(datum.value,'.1f'):''","labelPadding":12,"title":"Time (s)","titlePadding":3,"tickSize":{"condition":{"test":"round(datum.value*10)%2===0","value":-6},"value":-3.5}}},"y":{"field":"v","type":"quantitative","scale":{"domain":[-10,150],"nice":false,"zero":false},"axis":{"orient":"left","values":[0,10,20,30,40,50,60,70,80,90,100,110,120,130,140],"labelExpr":"datum.value%20===0?datum.label:''","labelPadding":12,"title":"Displacement (nm)","titleFontSize":14,"titlePadding":2,"tickSize":{"condition":{"test":"datum.value%20===0","value":-6},"value":-3.5}}},"stroke":{"field":"s","type":"nominal","scale":{"domain":["black","red"],"range":["#444444","#ff0000"]},"legend":null}}},
{"data":{"name":"traces"},"transform":[{"filter":"datum.p==='D'"}],"mark":{"type":"point","filled":true,"opacity":1,"size":24},"encoding":{"x":{"field":"t","type":"quantitative","scale":{"domain":[-0.05,0.95],"nice":false,"zero":false},"axis":{"orient":"top","values":[0,0.1,0.2,0.3,0.4,0.5,0.6,0.7,0.8,0.9],"labels":false,"title":null,"tickSize":{"condition":{"test":"round(datum.value*10)%2===0","value":-6},"value":-3.5}}},"y":{"field":"v","type":"quantitative","scale":{"domain":[-10,150],"nice":false,"zero":false},"axis":{"orient":"right","values":[0,10,20,30,40,50,60,70,80,90,100,110,120,130,140],"labels":false,"title":null,"tickSize":{"condition":{"test":"datum.value%20===0","value":-6},"value":-3.5}}},"shape":{"field":"s","type":"nominal","scale":{"domain":["black","red"],"range":["square","circle"]},"legend":null},"fill":{"field":"s","type":"nominal","scale":{"domain":["black","red"],"range":["#000000","#ff0000"]},"legend":null}}},
{"data":{"name":"bars"},"transform":[{"filter":"datum.p==='D'"}],"mark":{"type":"rule","color":"#444444","strokeWidth":1.5},"encoding":{"x":{"field":"t","type":"quantitative","axis":null},"x2":{"field":"t2"},"y":{"field":"v","type":"quantitative","axis":null},"y2":{"field":"v2"}}},
{"data":{"name":"labels"},"transform":[{"filter":"datum.p==='D'"}],"mark":{"type":"text","align":"left","baseline":"middle","fontSize":14,"fontWeight":"bold"},"encoding":{"x":{"datum":0.041,"axis":null},"y":{"datum":131,"axis":null},"text":{"field":"atp"}}},
{"data":{"name":"labels"},"transform":[{"filter":"datum.p==='D'"}],"mark":{"type":"text","align":"left","baseline":"middle","fontSize":14},"encoding":{"x":{"datum":0.041,"axis":null},"y":{"datum":116,"axis":null},"text":{"field":"dwell"}}},
{"data":{"name":"labels"},"transform":[{"filter":"datum.p==='D'"}],"mark":{"type":"text","align":"left","baseline":"middle","fontSize":14,"fontStyle":"italic","text":"J"},"encoding":{"x":{"datum":0.041,"axis":null},"y":{"datum":100.5,"axis":null}}},
{"data":{"name":"labels"},"transform":[{"filter":"datum.p==='D'"}],"mark":{"type":"text","align":"left","baseline":"middle","fontSize":14,"dx":10},"encoding":{"x":{"datum":0.041,"axis":null},"y":{"datum":100.5,"axis":null},"text":{"field":"j"}}},
{"data":{"name":"labels"},"transform":[{"filter":"datum.p==='D'"}],"mark":{"type":"text","align":"right","baseline":"middle","fontSize":18,"fontWeight":"bold"},"encoding":{"x":{"datum":0.89,"axis":null},"y":{"datum":135.5,"axis":null},"text":{"field":"letter"}}}
],"resolve":{"axis":{"x":"independent","y":"independent"}}},
{"width":241,"height":192,"layer":[
{"data":{"name":"traces"},"transform":[{"filter":"datum.p==='E'"}],"mark":{"type":"line","strokeWidth":0.8},"encoding":{"x":{"field":"t","type":"quantitative","scale":{"domain":[-0.05,0.95],"nice":false,"zero":false},"axis":{"orient":"bottom","values":[0,0.1,0.2,0.3,0.4,0.5,0.6,0.7,0.8,0.9],"labelExpr":"round(datum.value*10)%2===0?format(datum.value,'.1f'):''","labelPadding":12,"title":"Time (s)","titlePadding":3,"tickSize":{"condition":{"test":"round(datum.value*10)%2===0","value":-6},"value":-3.5}}},"y":{"field":"v","type":"quantitative","scale":{"domain":[-10,150],"nice":false,"zero":false},"axis":{"orient":"left","values":[0,10,20,30,40,50,60,70,80,90,100,110,120,130,140],"labels":false,"title":null,"tickSize":{"condition":{"test":"datum.value%20===0","value":-6},"value":-3.5}}},"stroke":{"field":"s","type":"nominal","scale":{"domain":["black","red"],"range":["#444444","#ff0000"]},"legend":null}}},
{"data":{"name":"traces"},"transform":[{"filter":"datum.p==='E'"}],"mark":{"type":"point","filled":true,"opacity":1,"size":24},"encoding":{"x":{"field":"t","type":"quantitative","scale":{"domain":[-0.05,0.95],"nice":false,"zero":false},"axis":{"orient":"top","values":[0,0.1,0.2,0.3,0.4,0.5,0.6,0.7,0.8,0.9],"labels":false,"title":null,"tickSize":{"condition":{"test":"round(datum.value*10)%2===0","value":-6},"value":-3.5}}},"y":{"field":"v","type":"quantitative","scale":{"domain":[-10,150],"nice":false,"zero":false},"axis":{"orient":"right","values":[0,10,20,30,40,50,60,70,80,90,100,110,120,130,140],"labels":false,"title":null,"tickSize":{"condition":{"test":"datum.value%20===0","value":-6},"value":-3.5}}},"shape":{"field":"s","type":"nominal","scale":{"domain":["black","red"],"range":["square","circle"]},"legend":null},"fill":{"field":"s","type":"nominal","scale":{"domain":["black","red"],"range":["#000000","#ff0000"]},"legend":null}}},
{"data":{"name":"bars"},"transform":[{"filter":"datum.p==='E'"}],"mark":{"type":"rule","color":"#444444","strokeWidth":1.5},"encoding":{"x":{"field":"t","type":"quantitative","axis":null},"x2":{"field":"t2"},"y":{"field":"v","type":"quantitative","axis":null},"y2":{"field":"v2"}}},
{"data":{"name":"labels"},"transform":[{"filter":"datum.p==='E'"}],"mark":{"type":"text","align":"left","baseline":"middle","fontSize":14,"fontWeight":"bold"},"encoding":{"x":{"datum":0.12,"axis":null},"y":{"datum":131,"axis":null},"text":{"field":"atp"}}},
{"data":{"name":"labels"},"transform":[{"filter":"datum.p==='E'"}],"mark":{"type":"text","align":"left","baseline":"middle","fontSize":14},"encoding":{"x":{"datum":0.12,"axis":null},"y":{"datum":116,"axis":null},"text":{"field":"dwell"}}},
{"data":{"name":"labels"},"transform":[{"filter":"datum.p==='E'"}],"mark":{"type":"text","align":"left","baseline":"middle","fontSize":14,"fontStyle":"italic","text":"J"},"encoding":{"x":{"datum":0.12,"axis":null},"y":{"datum":100.5,"axis":null}}},
{"data":{"name":"labels"},"transform":[{"filter":"datum.p==='E'"}],"mark":{"type":"text","align":"left","baseline":"middle","fontSize":14,"dx":10},"encoding":{"x":{"datum":0.12,"axis":null},"y":{"datum":100.5,"axis":null},"text":{"field":"j"}}},
{"data":{"name":"labels"},"transform":[{"filter":"datum.p==='E'"}],"mark":{"type":"text","align":"right","baseline":"middle","fontSize":18,"fontWeight":"bold"},"encoding":{"x":{"datum":0.892,"axis":null},"y":{"datum":135.5,"axis":null},"text":{"field":"letter"}}}
],"resolve":{"axis":{"x":"independent","y":"independent"}}},
{"width":241,"height":192,"layer":[
{"data":{"name":"traces"},"transform":[{"filter":"datum.p==='F'"}],"mark":{"type":"line","strokeWidth":0.8},"encoding":{"x":{"field":"t","type":"quantitative","scale":{"domain":[-0.05,0.95],"nice":false,"zero":false},"axis":{"orient":"bottom","values":[0,0.1,0.2,0.3,0.4,0.5,0.6,0.7,0.8,0.9],"labelExpr":"round(datum.value*10)%2===0?format(datum.value,'.1f'):''","labelPadding":12,"title":"Time (s)","titlePadding":3,"tickSize":{"condition":{"test":"round(datum.value*10)%2===0","value":-6},"value":-3.5}}},"y":{"field":"v","type":"quantitative","scale":{"domain":[-10,150],"nice":false,"zero":false},"axis":{"orient":"left","values":[0,10,20,30,40,50,60,70,80,90,100,110,120,130,140],"labels":false,"title":null,"tickSize":{"condition":{"test":"datum.value%20===0","value":-6},"value":-3.5}}},"stroke":{"field":"s","type":"nominal","scale":{"domain":["black","red"],"range":["#444444","#ff0000"]},"legend":null}}},
{"data":{"name":"traces"},"transform":[{"filter":"datum.p==='F'"}],"mark":{"type":"point","filled":true,"opacity":1,"size":24},"encoding":{"x":{"field":"t","type":"quantitative","scale":{"domain":[-0.05,0.95],"nice":false,"zero":false},"axis":{"orient":"top","values":[0,0.1,0.2,0.3,0.4,0.5,0.6,0.7,0.8,0.9],"labels":false,"title":null,"tickSize":{"condition":{"test":"round(datum.value*10)%2===0","value":-6},"value":-3.5}}},"y":{"field":"v","type":"quantitative","scale":{"domain":[-10,150],"nice":false,"zero":false},"axis":{"orient":"right","values":[0,10,20,30,40,50,60,70,80,90,100,110,120,130,140],"labels":false,"title":null,"tickSize":{"condition":{"test":"datum.value%20===0","value":-6},"value":-3.5}}},"shape":{"field":"s","type":"nominal","scale":{"domain":["black","red"],"range":["square","circle"]},"legend":null},"fill":{"field":"s","type":"nominal","scale":{"domain":["black","red"],"range":["#000000","#ff0000"]},"legend":null}}},
{"data":{"name":"bars"},"transform":[{"filter":"datum.p==='F'"}],"mark":{"type":"rule","color":"#444444","strokeWidth":1.5},"encoding":{"x":{"field":"t","type":"quantitative","axis":null},"x2":{"field":"t2"},"y":{"field":"v","type":"quantitative","axis":null},"y2":{"field":"v2"}}},
{"data":{"name":"labels"},"transform":[{"filter":"datum.p==='F'"}],"mark":{"type":"text","align":"left","baseline":"middle","fontSize":14,"fontWeight":"bold"},"encoding":{"x":{"datum":0.155,"axis":null},"y":{"datum":131,"axis":null},"text":{"field":"atp"}}},
{"data":{"name":"labels"},"transform":[{"filter":"datum.p==='F'"}],"mark":{"type":"text","align":"left","baseline":"middle","fontSize":14},"encoding":{"x":{"datum":0.155,"axis":null},"y":{"datum":116,"axis":null},"text":{"field":"dwell"}}},
{"data":{"name":"labels"},"transform":[{"filter":"datum.p==='F'"}],"mark":{"type":"text","align":"left","baseline":"middle","fontSize":14,"fontStyle":"italic","text":"J"},"encoding":{"x":{"datum":0.155,"axis":null},"y":{"datum":100.5,"axis":null}}},
{"data":{"name":"labels"},"transform":[{"filter":"datum.p==='F'"}],"mark":{"type":"text","align":"left","baseline":"middle","fontSize":14,"dx":10},"encoding":{"x":{"datum":0.155,"axis":null},"y":{"datum":100.5,"axis":null},"text":{"field":"j"}}},
{"data":{"name":"labels"},"transform":[{"filter":"datum.p==='F'"}],"mark":{"type":"text","align":"left","baseline":"middle","fontSize":18,"fontWeight":"bold"},"encoding":{"x":{"datum":-0.015,"axis":null},"y":{"datum":135.5,"axis":null},"text":{"field":"letter"}}}
],"resolve":{"axis":{"x":"independent","y":"independent"}}}
],"spacing":0,"bounds":"flush"}
]
}
